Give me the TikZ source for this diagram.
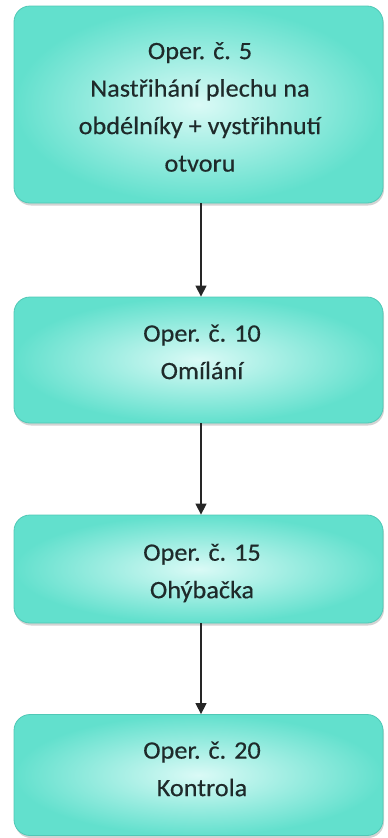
\documentclass[tikz,border=0pt]{standalone}
\usepackage{fontspec}
\setmainfont{Carlito}
\newfontfamily\boxfont[FakeStretch=1.05,FakeBold=0.4]{Carlito}
\usetikzlibrary{arrows.meta,shadows}
\definecolor{tealedge}{RGB}{80,200,182}
\definecolor{tealdark}{RGB}{98,224,205}
\definecolor{teallight}{RGB}{218,250,246}
\definecolor{txt}{RGB}{30,42,42}
\begin{document}
\begin{tikzpicture}[x=1pt,y=-1pt,
  opbox/.style={draw=tealedge, line width=0.8pt, rounded corners=16pt,
    inner color=teallight, outer color=tealdark, minimum width=369pt,
    drop shadow={shadow xshift=1pt,shadow yshift=-2.5pt,opacity=0.35}},
  optext/.style={align=center, text=txt, inner sep=0pt,
    font=\boxfont\fontsize{25}{37.5}\selectfont},
  flow/.style={draw=black!85, line width=1.4pt, -{Triangle[width=11pt,length=11pt]}}]
\useasboundingbox (0,0) rectangle (388,838);
\node[opbox, minimum height=197pt] (o5) at (198.5,104.5) {};
\node[opbox, minimum height=126pt] (o10) at (198.5,360) {};
\node[opbox, minimum height=108pt] (o15) at (198.5,569) {};
\node[opbox, minimum height=121pt] (o20) at (198.5,775) {};
\node[optext] (t5) at (200,107) {Oper. č. 5\\Nastřihání plechu na\\obdélníky + vystřihnutí\\otvoru};
\node[optext] (t10) at (202,352) {Oper. č. 10\\Omílání};
\node[optext] (t15) at (202,573) {Oper. č. 15\\Ohýbačka};
\node[optext] (t20) at (202,769) {Oper. č. 20\\Kontrola};
\draw[flow] ([xshift=2.5pt]o5.south) -- ([xshift=2.5pt]o10.north);
\draw[flow] ([xshift=2.5pt]o10.south) -- ([xshift=2.5pt]o15.north);
\draw[flow] ([xshift=2.5pt]o15.south) -- ([xshift=2.5pt]o20.north);
\end{tikzpicture}
\end{document}
